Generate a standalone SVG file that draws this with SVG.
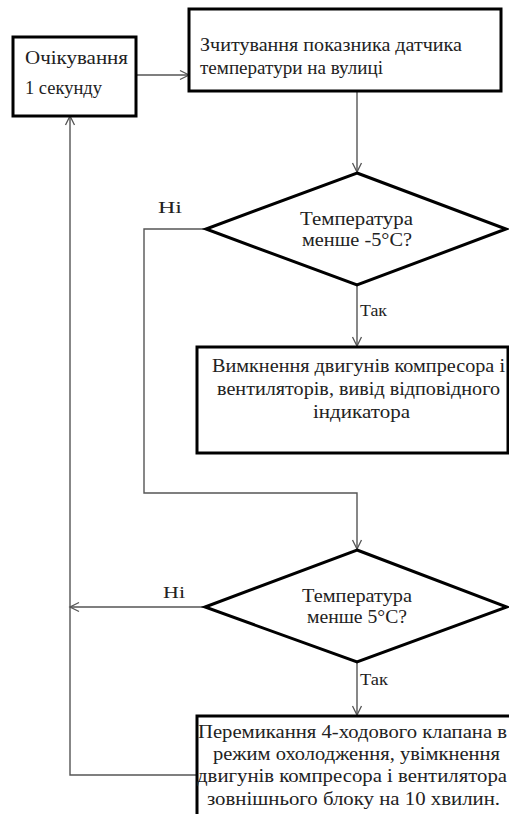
<svg xmlns="http://www.w3.org/2000/svg" width="509" height="814" viewBox="0 0 509 814">
<style>
.box{fill:#fff;stroke:#000;stroke-width:3}
.con{fill:none;stroke:#555;stroke-width:1.4}
.t{font-family:'Liberation Serif','Times New Roman',serif;font-size:18px;fill:#222}
.lbl{font-size:17px}
</style>
<defs>
<marker id="arr" markerWidth="12" markerHeight="12" refX="10" refY="6" orient="auto" markerUnits="userSpaceOnUse">
<path d="M1,1.5 L10,6 L1,10.5" fill="none" stroke="#555" stroke-width="1.3"/>
</marker>
</defs>
<rect width="509" height="814" fill="#fff"/>
<g id="connectors">
<path class="con" d="M136,75 H189" marker-end="url(#arr)"/>
<path class="con" d="M357,91 V172" marker-end="url(#arr)"/>
<path class="con" d="M357,285 V346" marker-end="url(#arr)"/>
<path class="con" d="M206,229 H144 V493 H357 V549" marker-end="url(#arr)"/>
<path class="con" d="M205,607 H70" marker-end="url(#arr)"/>
<path class="con" d="M357,662 V715" marker-end="url(#arr)"/>
<path class="con" d="M197,775 H70 V116" marker-end="url(#arr)"/>
<text class="t lbl" x="158" y="213" textLength="24" lengthAdjust="spacingAndGlyphs">Ні</text>
<text class="t lbl" x="360" y="316" textLength="27" lengthAdjust="spacingAndGlyphs">Так</text>
<text class="t lbl" x="163" y="598" textLength="22" lengthAdjust="spacingAndGlyphs">Ні</text>
<text class="t lbl" x="360" y="685" textLength="28" lengthAdjust="spacingAndGlyphs">Так</text>
</g>
<g id="wait">
<rect class="box" x="13" y="37" width="123" height="79"/>
<text class="t" x="25" y="64" textLength="103" lengthAdjust="spacingAndGlyphs">Очікування</text>
<text class="t" x="25" y="94" textLength="77" lengthAdjust="spacingAndGlyphs">1 секунду</text>
</g>
<g id="read">
<rect class="box" x="189" y="9" width="312" height="82"/>
<text class="t" x="200" y="51" textLength="262" lengthAdjust="spacingAndGlyphs">Зчитування показника датчика</text>
<text class="t" x="200" y="74" textLength="183" lengthAdjust="spacingAndGlyphs">температури на вулиці</text>
</g>
<g id="dec1">
<polygon class="box" points="357,173 506,229 357,285 206,229"/>
<text class="t" x="300" y="225" textLength="113" lengthAdjust="spacingAndGlyphs">Температура</text>
<text class="t" x="302" y="246" textLength="110" lengthAdjust="spacingAndGlyphs">менше -5°C?</text>
</g>
<g id="off">
<rect class="box" x="197" y="347" width="311" height="106"/>
<text class="t" x="212" y="372" textLength="293" lengthAdjust="spacingAndGlyphs">Вимкнення двигунів компресора і</text>
<text class="t" x="217" y="395" textLength="283" lengthAdjust="spacingAndGlyphs">вентиляторів, вивід відповідного</text>
<text class="t" x="313" y="418" textLength="97" lengthAdjust="spacingAndGlyphs">індикатора</text>
</g>
<g id="dec2">
<polygon class="box" points="357,550 507,607 357,662 205,607"/>
<text class="t" x="302" y="602" textLength="110" lengthAdjust="spacingAndGlyphs">Температура</text>
<text class="t" x="307" y="623" textLength="100" lengthAdjust="spacingAndGlyphs">менше 5°C?</text>
</g>
<g id="cool">
<rect class="box" x="197" y="716" width="320" height="110"/>
<text class="t" x="198" y="738" textLength="309" lengthAdjust="spacingAndGlyphs">Перемикання 4-ходового клапана в</text>
<text class="t" x="213" y="760" textLength="287" lengthAdjust="spacingAndGlyphs">режим охолодження, увімкнення</text>
<text class="t" x="197" y="782" textLength="310" lengthAdjust="spacingAndGlyphs">двигунів компресора і вентилятора</text>
<text class="t" x="207" y="805" textLength="293" lengthAdjust="spacingAndGlyphs">зовнішнього блоку на 10 хвилин.</text>
</g>
</svg>
